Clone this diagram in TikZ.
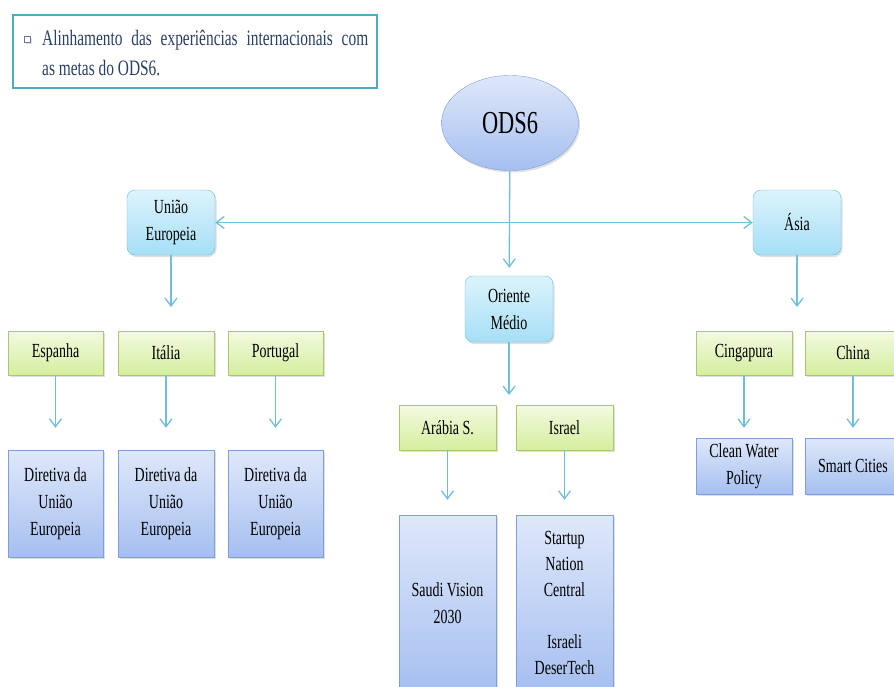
\documentclass[tikz,border=0pt]{standalone}
\usepackage{fontspec}
\setmainfont[FakeStretch=0.7]{Liberation Serif}
\usetikzlibrary{arrows.meta,shapes.geometric,shadows}

\definecolor{linkblue}{HTML}{72BED7}
\definecolor{framecol}{HTML}{4FAAC6}
\definecolor{navytext}{HTML}{2A3F66}
\definecolor{cyantop}{HTML}{DDF3FC}
\definecolor{cyanbot}{HTML}{A5DFF6}
\definecolor{cyanedge}{HTML}{6CBCD8}
\definecolor{greentop}{HTML}{F3FAE1}
\definecolor{greenbot}{HTML}{D5EE9E}
\definecolor{greenedge}{HTML}{AAC76E}
\definecolor{bluetop}{HTML}{DEE8FA}
\definecolor{bluebot}{HTML}{A6BFF0}
\definecolor{blueedge}{HTML}{7E9FD8}

\tikzset{
    >={Straight Barb[length=8pt,width=12pt]},
    sombra/.style={drop shadow={shadow xshift=1.5pt, shadow yshift=-2pt, opacity=.25}},
    caixa/.style={draw, rectangle, inner sep=2pt, align=center, font=\fontsize{20}{27}\selectfont, sombra},
    regiao/.style={caixa, rounded corners=8pt, draw=cyanedge, top color=cyantop, bottom color=cyanbot, minimum width=88pt, minimum height=65pt},
    pais/.style={caixa, draw=greenedge, top color=greentop, bottom color=greenbot, minimum width=96pt, minimum height=44pt},
    acao/.style={caixa, draw=blueedge, top color=bluetop, bottom color=bluebot, minimum width=96pt},
    link/.style={draw=linkblue, line width=1.3pt}
}

\begin{document}
\begin{tikzpicture}[x=1pt, y=-1pt]
    \useasboundingbox (0,0) rectangle (894,686);
    \clip (0,0) rectangle (894,686);

    % Title box
    \node (quadro) [draw=framecol, line width=2.5pt, minimum width=364pt, minimum height=73pt] at (195,51.5) {};
    \node (marca) [draw=navytext!70, fill=white, minimum size=6pt, inner sep=0pt, sombra] at (27,39) {};
    \node (meta) [anchor=north west, inner sep=0pt, text width=326pt, align=justify, text=navytext, font=\fontsize{22}{30}\selectfont] at (42,29.5)
        {Alinhamento das experiências internacionais com\linebreak as metas do ODS6.};

    % Nodes
    \node (ods) [ellipse, draw=blueedge, top color=bluetop, bottom color=bluebot, minimum width=137pt, minimum height=95pt, inner sep=0pt, font=\fontsize{32}{38}\selectfont, sombra] at (510,123) {ODS6};

    \node (ue) [regiao] at (171,222.5) {União\\Europeia};
    \node (om) [regiao, minimum height=66pt] at (509,309) {Oriente\\Médio};
    \node (asia) [regiao] at (797,222.5) {Ásia};

    \node (esp) [pais, minimum width=95pt] at (55.5,353) {Espanha};
    \node (ita) [pais] at (166,353) {Itália};
    \node (por) [pais, minimum width=95pt] at (275.5,353) {Portugal};
    \node (ara) [pais, minimum width=97pt, minimum height=45pt] at (447.5,427.5) {Arábia S.};
    \node (isr) [pais, minimum width=97pt, minimum height=45pt] at (564.5,427.5) {Israel};
    \node (cin) [pais] at (744,353) {Cingapura};
    \node (chi) [pais] at (853,353) {China};

    \node (espd) [acao, minimum width=95pt, minimum height=107pt] at (55.5,503.5) {Diretiva da\\União\\Europeia};
    \node (itad) [acao, minimum height=107pt] at (166,503.5) {Diretiva da\\União\\Europeia};
    \node (pord) [acao, minimum width=95pt, minimum height=107pt] at (275.5,503.5) {Diretiva da\\União\\Europeia};
    \node (arad) [acao, minimum width=97pt, minimum height=176pt] at (447.5,603) {Saudi Vision\\2030};
    \node (isrd) [acao, minimum width=97pt, minimum height=176pt, font=\fontsize{20}{26}\selectfont] at (564.5,603) {Startup\\Nation\\Central\\[26pt]Israeli\\DeserTech};
    \node (cind) [acao, minimum height=56pt] at (744,466) {Clean Water\\Policy};
    \node (chid) [acao, minimum height=56pt] at (853,466) {Smart Cities};

    \coordinate (ue-ponta) at (171,307);
    \coordinate (om-ponta) at (509,395);
    \coordinate (asia-ponta) at (797,307);

    % Edges
    \draw[link, <->] (ue) -- (asia);
    \draw[link, ->, shorten >=8pt] (ods) -- (om);
    \draw[link, ->] (ue) -- (ue-ponta);
    \draw[link, ->] (om) -- (om-ponta);
    \draw[link, ->] (asia) -- (asia-ponta);

    \draw[link, ->, shorten >=22pt] (esp) -- (espd);
    \draw[link, ->, shorten >=22pt] (ita) -- (itad);
    \draw[link, ->, shorten >=22pt] (por) -- (pord);
    \draw[link, ->, shorten >=15pt] (ara) -- (arad);
    \draw[link, ->, shorten >=15pt] (isr) -- (isrd);
    \draw[link, ->, shorten >=10pt] (cin) -- (cind);
    \draw[link, ->, shorten >=10pt] (chi) -- (chid);
\end{tikzpicture}
\end{document}
